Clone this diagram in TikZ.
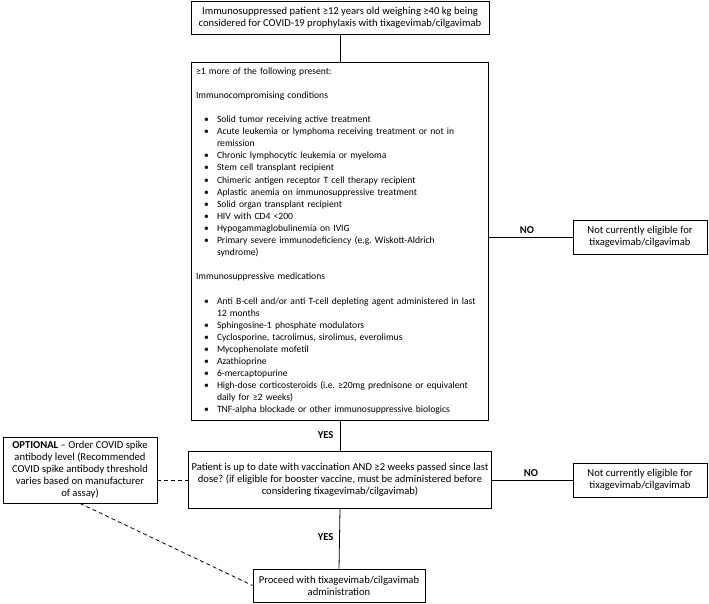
\documentclass[tikz,border=0pt]{standalone}
\usepackage{fontspec}
\setmainfont{Carlito}
\frenchspacing
\newcommand{\puce}{\makebox[21pt][l]{\hspace{8pt}\textbullet}}
\newcommand{\retrait}{\hspace*{21pt}}

\begin{document}
\begin{tikzpicture}[x=1pt,y=-1pt,
    boite/.style={draw, line width=0.8pt, align=center, inner sep=3pt,
      font=\fontsize{10.6}{12}\selectfont},
    lien/.style={line width=0.8pt},
    pointille/.style={line width=0.8pt, dash pattern=on 4pt off 3pt},
    rep/.style={font=\fontsize{10.6}{12}\selectfont\bfseries}]

      \useasboundingbox (0,0) rectangle (709,603);

      %cadres
      \node[boite, minimum width=298pt, minimum height=33pt] (patient) at (340,17.5)
        {Immunosuppressed patient ≥12 years old weighing ≥40 kg being\\
         considered for COVID-19 prophylaxis with tixagevimab/cilgavimab};
      \node[boite, minimum width=297pt, minimum height=358pt, text width=287pt,
        align=left, inner sep=5pt, font=\fontsize{9.6}{12.1}\selectfont] (liste) at (339.5,241)
        {≥1 more of the following present:\\[12.1pt]
         Immunocompromising conditions\\[12.1pt]
         \puce Solid tumor receiving active treatment\\
         \puce \mbox{Acute leukemia or lymphoma receiving treatment or not in}\\
         \retrait remission\\
         \puce Chronic lymphocytic leukemia or myeloma\\
         \puce Stem cell transplant recipient\\
         \puce Chimeric antigen receptor T cell therapy recipient\\
         \puce Aplastic anemia on immunosuppressive treatment\\
         \puce Solid organ transplant recipient\\
         \puce HIV with CD4 <200\\
         \puce Hypogammaglobulinemia on IVIG\\
         \puce Primary severe immunodeficiency (e.g. Wiskott-Aldrich\\
         \retrait syndrome)\\[12.1pt]
         Immunosuppressive medications\\[12.1pt]
         \puce \mbox{Anti B-cell and/or anti T-cell depleting agent administered in last}\\
         \retrait 12 months\\
         \puce Sphingosine-1 phosphate modulators\\
         \puce Cyclosporine, tacrolimus, sirolimus, everolimus\\
         \puce Mycophenolate mofetil\\
         \puce Azathioprine\\
         \puce 6-mercaptopurine\\
         \puce \mbox{High-dose corticosteroids (i.e. ≥20mg prednisone or equivalent}\\
         \retrait daily for ≥2 weeks)\\
         \puce TNF-alpha blockade or other immunosuppressive biologics};
      \node[boite, minimum width=134pt, minimum height=34pt] (nonA) at (640,237)
        {Not currently eligible for\\ tixagevimab/cilgavimab};
      \node[boite, minimum width=298pt, minimum height=57pt] (vaccin) at (340,480)
        {Patient is up to date with vaccination AND ≥2 weeks passed since last\\
         dose? (if eligible for booster vaccine, must be administered before\\
         considering tixagevimab/cilgavimab)};
      \node[boite, minimum width=134pt, minimum height=34pt] (nonB) at (640,480)
        {Not currently eligible for\\ tixagevimab/cilgavimab};
      \node[boite, minimum width=154pt, minimum height=66pt] (option) at (80,470)
        {\textbf{OPTIONAL} – Order COVID spike\\ antibody level (Recommended\\
         COVID spike antibody threshold\\ varies based on manufacturer\\ of assay)};
      \node[boite, minimum width=172pt, minimum height=33pt] (suite) at (339,585.5)
        {Proceed with tixagevimab/cilgavimab\\ administration};

      %liens
      \draw[lien] (patient.south) -- (patient.south |- liste.north);
      \draw[lien] (liste.east |- nonA.west) -- (nonA.west);
      \draw[lien] (vaccin.north |- liste.south) -- (vaccin.north);
      \draw[lien] (vaccin.east) -- (nonB.west);
      \draw[lien] (vaccin.south) -- (suite.north);
      \draw[pointille] (option.east |- vaccin.west) -- (vaccin.west);
      \draw[pointille] (option.south) -- (suite.west);

      %reponses
      \node[rep, anchor=east] (ouiA) at (337,435) {YES};
      \node[rep, anchor=east] (ouiB) at (337,537) {YES};
      \node[rep] (nonLabA) at (527,230) {NO};
      \node[rep] (nonLabB) at (531,473) {NO};
    \end{tikzpicture}
\end{document}
